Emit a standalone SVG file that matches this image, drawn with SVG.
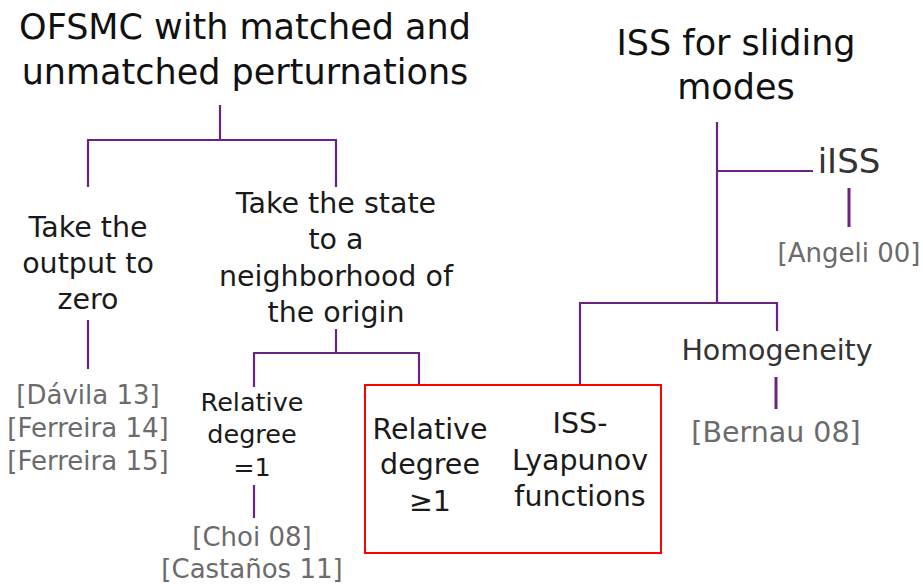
<svg xmlns="http://www.w3.org/2000/svg" width="923" height="584" viewBox="0 0 923 584">
<style>
text{font-family:"DejaVu Sans",Verdana,sans-serif;text-anchor:middle}
.t{font-size:35px;fill:#111}
.n{font-size:28.5px;fill:#1a1a1a}
.s{font-size:25.5px;fill:#1a1a1a}
.d{fill:#333}
.c{font-size:26px;fill:#6b6b6b}
.e{stroke:#6a2381;stroke-width:2.2;fill:none}
.e3{stroke:#6a2381;stroke-width:3;fill:none}
</style>
<rect width="923" height="584" fill="#fff"/>
<g id="connectors">
<path class="e" d="M220,105V140M88,187V140H336V187"/>
<path class="e" d="M88,320V369"/>
<path class="e" d="M336,329V353M254,387V353H419V385"/>
<path class="e" d="M254,485V518"/>
<path class="e" d="M717,122V303M717,171H813"/>
<path class="e3" d="M849,188V227"/>
<path class="e" d="M580,385V303H777V331"/>
<path class="e3" d="M776,377V409"/>
</g>
<g id="title-left"><text class="t" x="245" y="39">OFSMC with matched and</text><text class="t" x="245" y="84">unmatched perturnations</text></g>
<g id="title-right"><text class="t" x="736" y="55">ISS for sliding</text><text class="t" x="736" y="99">modes</text></g>
<g id="output-zero"><text class="n" x="88" y="237">Take the</text><text class="n" x="88" y="273">output to</text><text class="n" x="88" y="309">zero</text></g>
<g id="cite-left"><text class="c" x="88" y="404">[Dávila 13]</text><text class="c" x="88" y="437">[Ferreira 14]</text><text class="c" x="88" y="470">[Ferreira 15]</text></g>
<g id="state-origin"><text class="n" x="336" y="213">Take the state</text><text class="n" x="336" y="249">to a</text><text class="n" x="336" y="286">neighborhood of</text><text class="n" x="336" y="322">the origin</text></g>
<g id="reldeg1"><text class="s" x="252" y="411">Relative</text><text class="s" x="252" y="443">degree</text><text class="s" x="252" y="476">=1</text></g>
<g id="cite-choi"><text class="c" x="252" y="546">[Choi 08]</text><text class="c" x="252" y="578">[Castaños 11]</text></g>
<g id="box"><rect x="365" y="385" width="296" height="168" fill="none" stroke="#f00" stroke-width="2"/>
<text class="n" x="430" y="439">Relative</text><text class="n" x="430" y="474">degree</text><text class="n" x="430" y="511">≥1</text>
<text class="n" x="580" y="433">ISS-</text><text class="n" x="580" y="470">Lyapunov</text><text class="n" x="580" y="506">functions</text></g>
<g id="iiss"><text class="d" x="849" y="173" style="font-size:34px">iISS</text></g>
<g id="cite-angeli"><text class="c" x="849" y="262">[Angeli 00]</text></g>
<g id="homogeneity"><text class="n d" x="777" y="360">Homogeneity</text></g>
<g id="cite-bernau"><text class="c" x="776" y="442" style="font-size:28.5px">[Bernau 08]</text></g>
</svg>
